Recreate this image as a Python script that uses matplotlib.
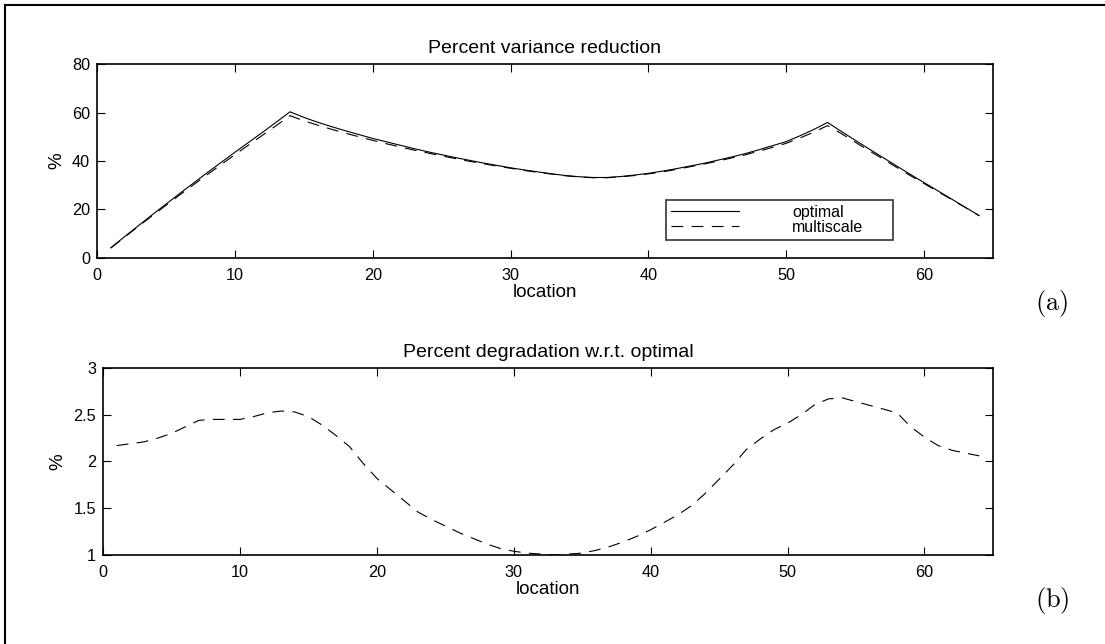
import numpy as np
import matplotlib
matplotlib.use("Agg")
import matplotlib.pyplot as plt
from matplotlib.lines import Line2D

plt.rcParams['font.family'] = ['Liberation Sans', 'DejaVu Sans']
plt.rcParams['mathtext.fontset'] = 'cm'
plt.rcParams['lines.scale_dashes'] = False

# datos
location = np.arange(1, 65)

optimal = [4.2, 8.8, 13.3, 17.8, 22.2, 26.6, 30.9, 35.2, 39.4, 43.6,
           47.7, 51.8, 56.0, 60.3, 58.0, 56.0, 54.2, 52.5, 50.9, 49.3,
           47.9, 46.5, 45.1, 43.8, 42.6, 41.4, 40.3, 39.2, 38.2, 37.2,
           36.3, 35.5, 34.7, 34.0, 33.5, 33.2, 33.2, 33.6, 34.2, 34.9,
           35.8, 36.8, 37.9, 39.0, 40.3, 41.6, 43.0, 44.6, 46.3, 48.0,
           50.4, 53.0, 55.9, 52.2, 48.6, 45.0, 41.5, 38.0, 34.5, 31.1,
           27.7, 24.3, 20.9, 17.5]

multiscale = [4.1, 8.6, 13.0, 17.4, 21.7, 26.0, 30.2, 34.4, 38.5, 42.6,
              46.6, 50.6, 54.6, 58.7, 56.6, 54.8, 53.1, 51.5, 50.0, 48.5,
              47.1, 45.8, 44.5, 43.3, 42.1, 41.0, 39.9, 38.9, 37.9, 37.0,
              36.1, 35.3, 34.6, 33.9, 33.4, 33.1, 33.1, 33.5, 34.0, 34.7,
              35.5, 36.5, 37.6, 38.7, 39.9, 41.2, 42.5, 44.0, 45.6, 47.3,
              49.5, 51.9, 54.6, 51.3, 47.8, 44.3, 40.9, 37.4, 34.0, 30.7,
              27.4, 24.1, 20.8, 17.4]

degradation = [2.17, 2.19, 2.21, 2.25, 2.30, 2.37, 2.44, 2.45, 2.45, 2.45,
               2.48, 2.52, 2.54, 2.53, 2.48, 2.39, 2.28, 2.16, 1.98, 1.82,
               1.70, 1.58, 1.46, 1.38, 1.31, 1.24, 1.18, 1.12, 1.07, 1.04,
               1.02, 1.01, 1.00, 1.01, 1.02, 1.05, 1.09, 1.14, 1.20, 1.27,
               1.35, 1.43, 1.53, 1.66, 1.81, 1.96, 2.13, 2.24, 2.34, 2.41,
               2.50, 2.61, 2.67, 2.68, 2.64, 2.60, 2.56, 2.52, 2.37, 2.26,
               2.17, 2.12, 2.09, 2.06]

fs_tick = 11.7
fs_label = 13.5
fs_title = 14
dash = (8.5, 6.0)

fig = plt.figure(figsize=(11.05, 6.44), dpi=100)
ax1 = fig.add_axes([0.0878, 0.5994, 0.8108, 0.3012])
ax2 = fig.add_axes([0.0932, 0.1382, 0.8054, 0.2904])


def estilo(ax):
    ax.tick_params(direction='in', length=5.8, width=0.8, top=True, right=True,
                   labelsize=fs_tick, colors='black')
    ax.tick_params(axis='x', pad=7)
    ax.tick_params(axis='y', pad=5)
    for s in ax.spines.values():
        s.set_linewidth(1.2)
    ax.set_xlim(0, 65)
    ax.set_xticks([0, 10, 20, 30, 40, 50, 60])
    ax.set_xlabel('location', fontsize=fs_label, labelpad=1)
    ax.set_ylabel('%', fontsize=fs_label, labelpad=5)


# (a)
ax1.plot(location, optimal, color='black', linewidth=0.8, label='optimal')
ax1.plot(location, multiscale, color='black', linewidth=0.8, linestyle=(0, dash),
         label='multiscale')
estilo(ax1)
ax1.set_ylim(0, 80)
ax1.set_yticks([0, 20, 40, 60, 80])
ax1.set_title('Percent variance reduction', fontsize=fs_title, pad=8)
leg = ax1.legend(loc='lower left', bbox_to_anchor=(0.635, 0.095, 0.2533, 0.2),
                 mode='expand', borderaxespad=0, fontsize=11.5, frameon=True,
                 fancybox=False, handlelength=4.3, handletextpad=3.3,
                 labelspacing=0.0, borderpad=0.3)
leg.get_frame().set_edgecolor('black')
leg.get_frame().set_linewidth(1.2)

# (b)
ax2.plot(location, degradation, color='black', linewidth=0.8, linestyle=(0, dash))
estilo(ax2)
ax2.set_ylim(1, 3)
ax2.set_yticks([1, 1.5, 2, 2.5, 3])
ax2.set_yticklabels(['1', '1.5', '2', '2.5', '3'])
ax2.set_title('Percent degradation w.r.t. optimal', fontsize=fs_title, pad=8)

fig.text(0.952, 0.528, r'$\mathrm{(a)}$', fontsize=19, ha='center', va='center')
fig.text(0.952, 0.068, r'$\mathrm{(b)}$', fontsize=19, ha='center', va='center')

# marco de la figura (solo arriba e izquierda)
fig.add_artist(Line2D([5 / 1105, 5 / 1105], [0, 1 - 5 / 644], transform=fig.transFigure,
                      color='black', linewidth=1.5))
fig.add_artist(Line2D([5 / 1105, 1], [1 - 5 / 644, 1 - 5 / 644], transform=fig.transFigure,
                      color='black', linewidth=1.5))

fig.savefig('out.png', dpi=100)
